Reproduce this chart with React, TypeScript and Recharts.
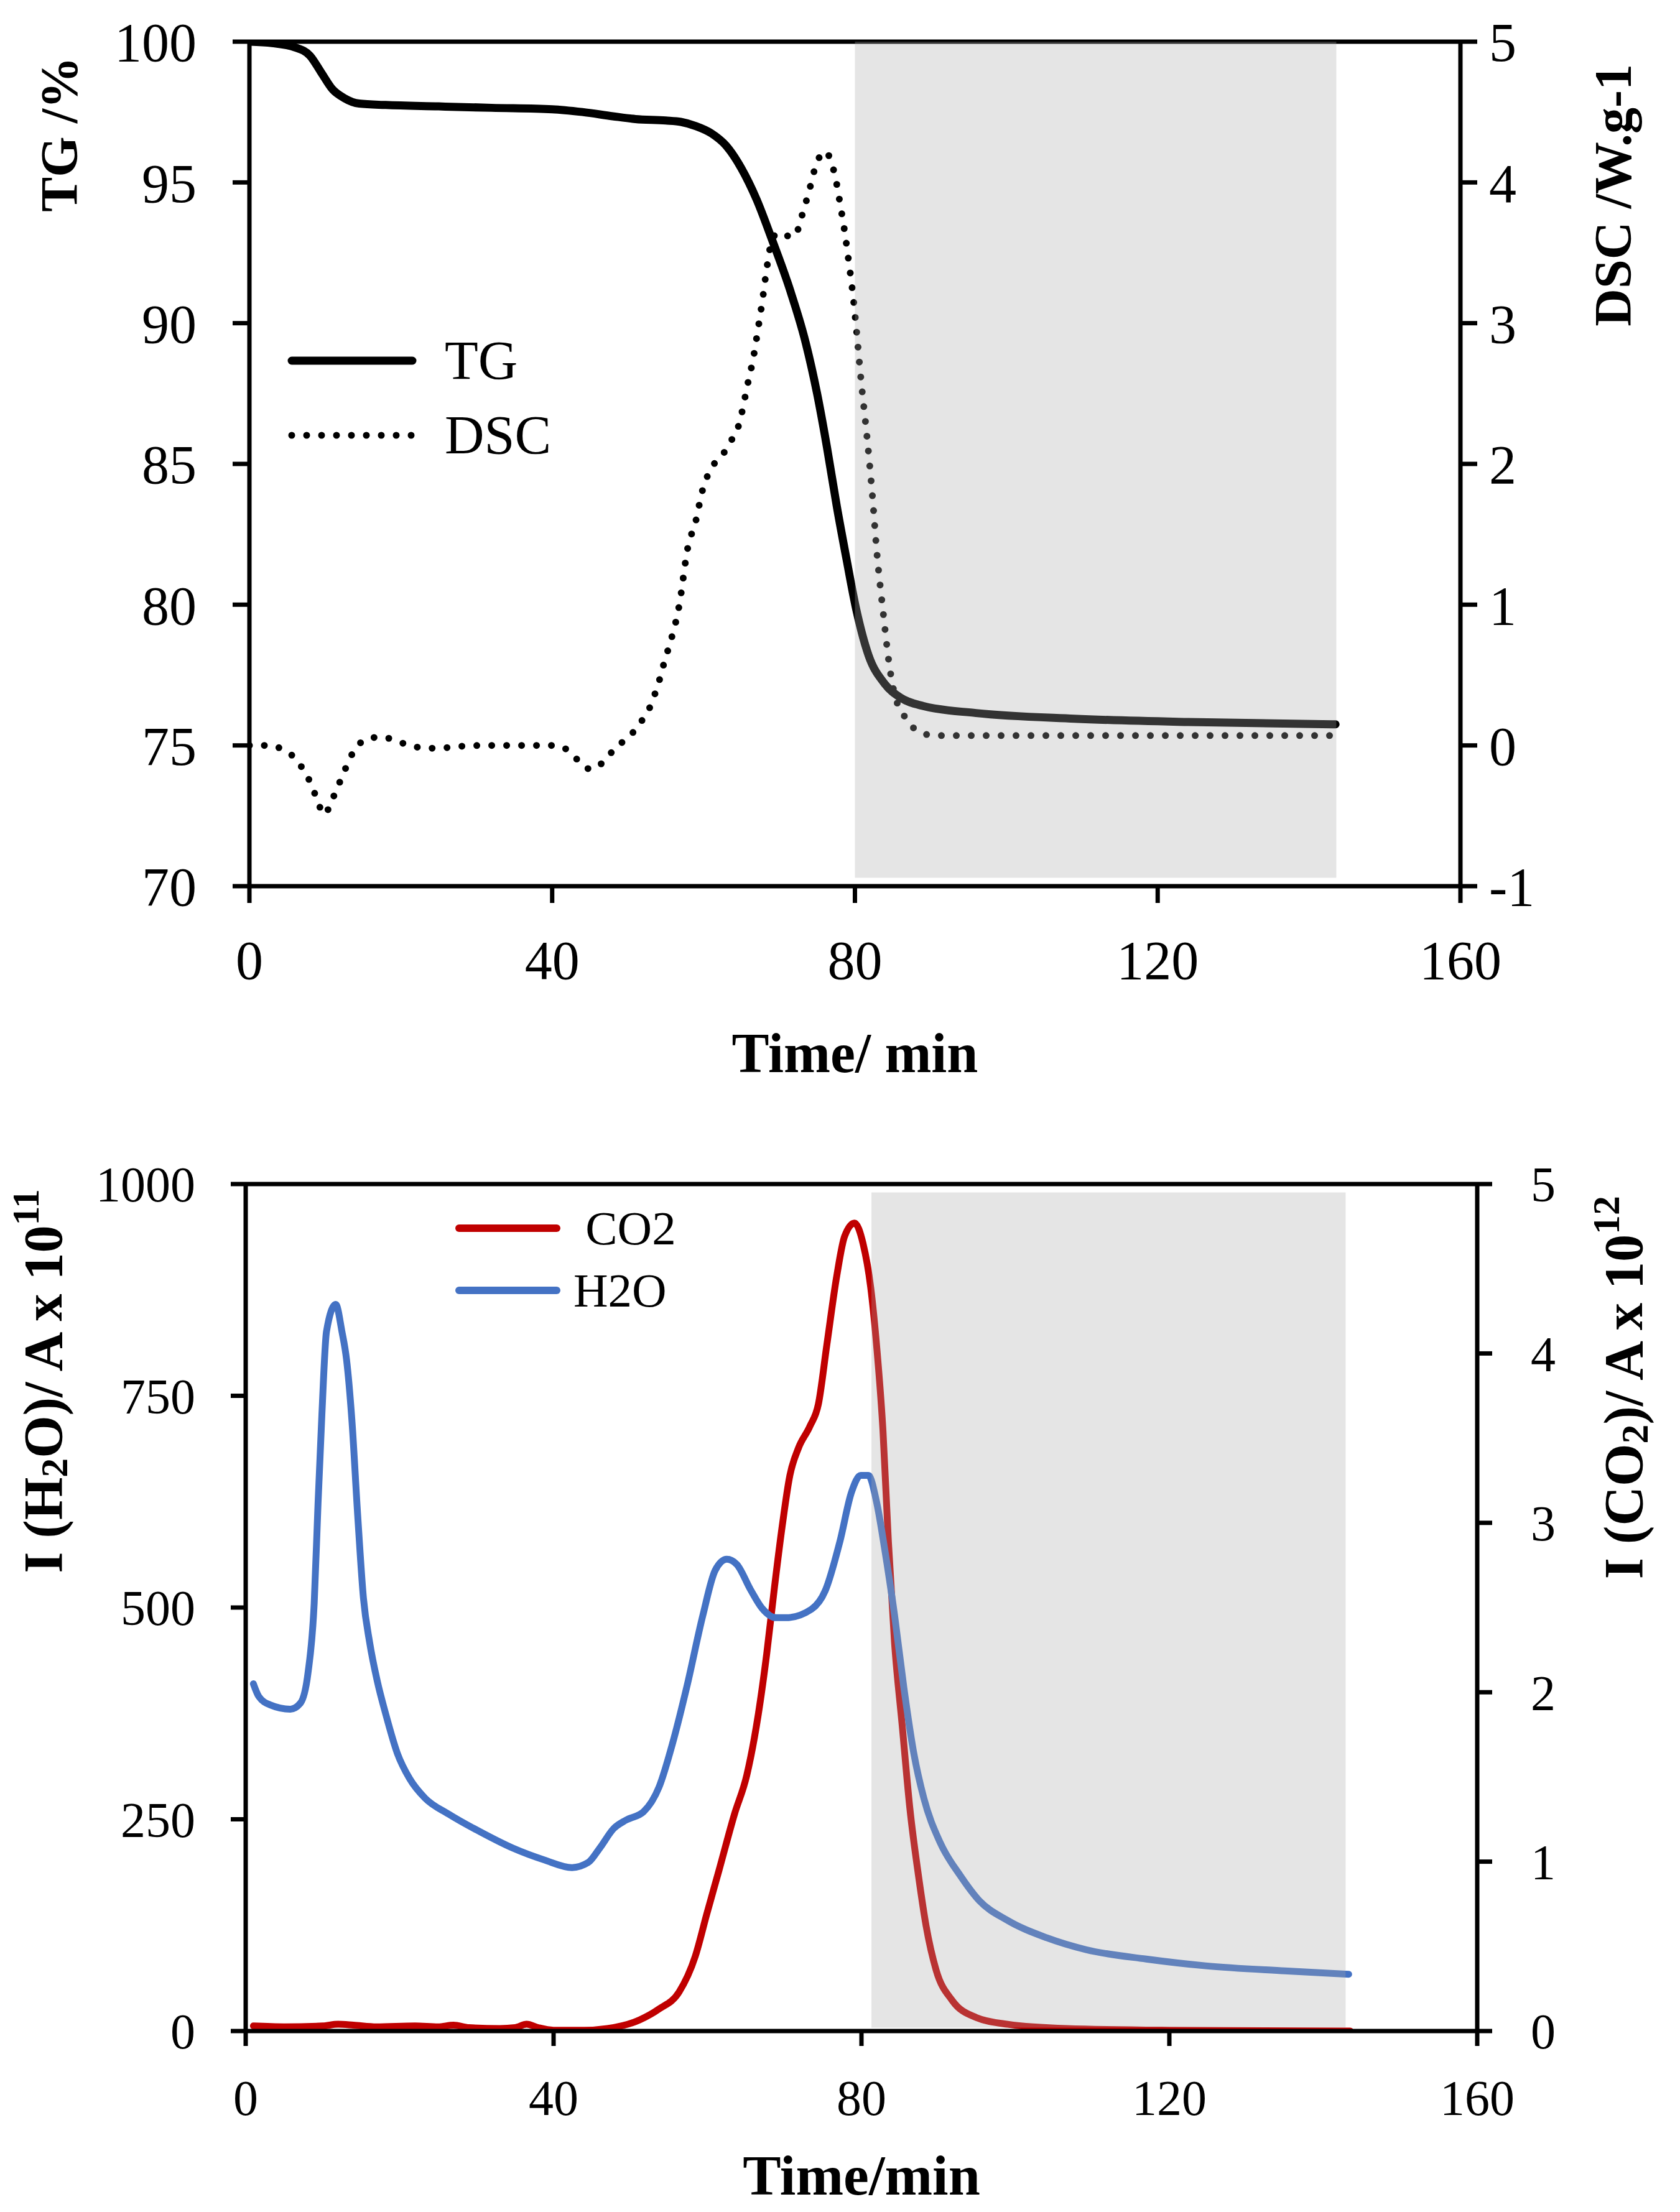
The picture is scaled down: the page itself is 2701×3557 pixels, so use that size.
import React from 'react';
import { LineChart, Line, XAxis, YAxis, ReferenceArea, ReferenceLine, Legend, Label } from 'recharts';

const FONT = '"Liberation Serif", "Times New Roman", serif';

// ---------- axis ticks ----------
const timeTicks = [0, 40, 80, 120, 160];
const tgTicks = [70, 75, 80, 85, 90, 95, 100];
const dscTicks = [-1, 0, 1, 2, 3, 4, 5];
const h2oTicks = [0, 250, 500, 750, 1000];
const co2Ticks = [0, 1, 2, 3, 4, 5];

// ---------- top chart: TG (%) ----------
const tgTime = [0, 3, 6, 8, 9.5, 11, 12.5, 14.5, 18, 25, 32, 40, 44, 48, 51, 55, 57, 59, 61, 63, 65, 67, 69, 71.4, 73.5, 75, 76.3, 77.6, 78.9, 80.2, 81.8, 83.9, 86, 89, 96, 109, 124, 143.5];
const tgValue = [100, 99.95, 99.8, 99.5, 98.9, 98.3, 98.0, 97.8, 97.75, 97.7, 97.65, 97.6, 97.5, 97.35, 97.25, 97.2, 97.15, 97.0, 96.75, 96.3, 95.5, 94.4, 93.0, 91.2, 89.3, 87.5, 85.6, 83.5, 81.6, 79.8, 78.2, 77.2, 76.7, 76.4, 76.15, 75.95, 75.83, 75.75];

// ---------- top chart: DSC (W/g) ----------
const dscTime = [0, 2.8, 4.7, 6.2, 7.3, 8.2, 8.9, 9.9, 10.9, 11.7, 12.5, 13.2, 14.2, 15.7, 17.6, 19.4, 21.3, 23.2, 25.1, 27, 30.8, 34.6, 38.5, 40.4, 42.2, 43.5, 45.1, 46.7, 48, 49.4, 50.8, 51.9, 52.9, 53.6, 54.2, 54.7, 55.2, 56.8, 57.9, 59.0, 59.8, 61.4, 62.7, 63.7, 64.5, 65.0, 65.8, 66.6, 67.2, 67.8, 68.3, 69.0, 69.8, 70.9, 72.1, 72.8, 73.9, 74.9, 76.1, 76.9, 77.4, 78.1, 78.7, 79.2, 79.7, 80.1, 80.8, 81.6, 82.3, 82.9, 83.7, 84.6, 85.3, 86.2, 87.3, 88.7, 90.7, 96.4, 108.9, 125, 143.5];
const dscValue = [0, 0, -0.04, -0.1, -0.19, -0.28, -0.38, -0.49, -0.39, -0.29, -0.19, -0.1, -0.01, 0.05, 0.06, 0.03, 0, -0.02, -0.02, -0.01, 0, 0, 0, 0, -0.04, -0.11, -0.17, -0.12, -0.04, 0.03, 0.1, 0.18, 0.27, 0.37, 0.47, 0.57, 0.66, 1.0, 1.4, 1.6, 1.8, 2.0, 2.08, 2.17, 2.25, 2.35, 2.56, 2.76, 2.96, 3.17, 3.37, 3.58, 3.64, 3.62, 3.62, 3.73, 3.93, 4.13, 4.22, 4.14, 4.04, 3.83, 3.63, 3.43, 3.22, 3.01, 2.6, 2.19, 1.78, 1.37, 0.96, 0.55, 0.35, 0.24, 0.15, 0.09, 0.07, 0.07, 0.07, 0.07, 0.07];

// ---------- bottom chart: H2O (A x 1e11) ----------
const h2oTime = [1, 1.7, 3.2, 5.8, 7.1, 8.1, 8.9, 9.4, 9.9, 10.5, 11.7, 12.5, 13.1, 13.8, 14.55, 15.3, 16.1, 17.1, 18.2, 19.7, 21.3, 23.3, 26.4, 30.5, 34.7, 38.8, 42.4, 44.5, 46, 47.8, 49.4, 51.7, 53.7, 55.5, 57.3, 59.4, 61.0, 62.5, 63.8, 65.6, 67.1, 68.9, 70.2, 73.5, 75.3, 77.2, 78.7, 79.9, 80.9, 82.0, 83.0, 84.3, 85.5, 86.8, 88.1, 90.2, 92.8, 95.3, 98.9, 104.1, 109.2, 117, 124.7, 135, 143.3];
const h2oValue = [410, 395, 385, 380, 387, 423, 505, 623, 728, 826, 858, 826, 793, 721, 609, 511, 459, 413, 374, 328, 298, 275, 256, 235, 216, 202, 193, 199, 216, 239, 249, 259, 288, 341, 406, 491, 544, 557, 551, 521, 499, 488, 488, 498, 520, 578, 636, 656, 656, 623, 570, 491, 406, 328, 275, 223, 184, 154, 131, 110, 96, 85, 77, 71, 67];

// ---------- bottom chart: CO2 (A x 1e12) ----------
const co2Time = [1, 5, 10, 12, 14, 17, 22, 25, 27, 29, 33, 35, 36.5, 38, 40, 44, 47, 51.2, 53.7, 56.3, 58.4, 59.9, 61.5, 63.5, 65.1, 66.6, 67.7, 68.7, 69.7, 70.7, 71.8, 73.3, 74.4, 75.5, 76.8, 77.8, 79.1, 80.2, 81.2, 82.0, 82.8, 83.5, 84.3, 85.3, 86.3, 87.4, 88.4, 89.7, 91.8, 94.9, 99, 106.7, 120, 143.5];
const co2Value = [0.03, 0.025, 0.03, 0.04, 0.035, 0.025, 0.03, 0.025, 0.035, 0.02, 0.015, 0.02, 0.04, 0.02, 0.005, 0.005, 0.015, 0.066, 0.13, 0.23, 0.44, 0.69, 0.95, 1.28, 1.51, 1.87, 2.23, 2.62, 2.98, 3.28, 3.44, 3.57, 3.7, 4.05, 4.46, 4.69, 4.77, 4.65, 4.39, 4.03, 3.54, 2.89, 2.29, 1.8, 1.31, 0.92, 0.62, 0.36, 0.18, 0.08, 0.04, 0.015, 0.005, 0];

// ---------- legends ----------
const topLegend = [
  { name: 'TG', color: '#000000', dash: undefined as string | undefined, width: 13 },
  { name: 'DSC', color: '#000000', dash: '0 24', width: 11 },
];
const bottomLegend = [
  { name: ' CO2', color: '#C00000' },
  { name: 'H2O', color: '#4472C4' },
];

const zip = (xs: number[], ys: number[], key: string) => xs.map((t, i) => ({ time: t, [key]: ys[i] }));
const tgData = zip(tgTime, tgValue, 'tg');
const dscData = zip(dscTime, dscValue, 'dsc');
const h2oData = zip(h2oTime, h2oValue, 'h2o');
const co2Data = zip(co2Time, co2Value, 'co2');

const axisStroke = { stroke: '#000', strokeWidth: 7 };

const TopLegendContent = () => (
  <div style={{ fontFamily: FONT, color: '#000' }}>
    {topLegend.map((it) => (
      <div key={it.name} style={{ display: 'flex', alignItems: 'center', height: 120 }}>
        <svg width={210} height={40} style={{ display: 'block' }}>
          <line x1={8} y1={20} x2={202} y2={20} stroke={it.color} strokeWidth={it.width}
            strokeDasharray={it.dash} strokeLinecap="round" />
        </svg>
        <span style={{ marginLeft: 44, fontSize: 88, lineHeight: '88px' }}>{it.name}</span>
      </div>
    ))}
  </div>
);

const BottomLegendContent = () => (
  <div style={{ fontFamily: FONT, color: '#000' }}>
    {bottomLegend.map((it) => (
      <div key={it.name} style={{ display: 'flex', alignItems: 'center', height: 100 }}>
        <svg width={173} height={30} style={{ display: 'block' }}>
          <line x1={8} y1={15} x2={165} y2={15} stroke={it.color} strokeWidth={12} strokeLinecap="round" />
        </svg>
        <span style={{ marginLeft: 19, fontSize: 77, lineHeight: '77px', whiteSpace: 'pre' }}>{it.name}</span>
      </div>
    ))}
  </div>
);

const rotTitle = (dx: number, dy: number, size: number, body: React.ReactNode) => (props: any) => {
  const vb = props.viewBox || { x: 0, y: 0 };
  const x = vb.x + dx;
  const y = vb.y + dy;
  return (
    <text x={x} y={y} transform={`rotate(-90, ${x}, ${y})`} textAnchor="end" dominantBaseline="central"
      fontFamily={FONT} fontWeight="bold" fontSize={size} fill="#000">
      {body}
    </text>
  );
};

const xTitle = (dy: number, size: number, body: string) => (props: any) => {
  const vb = props.viewBox || { x: 0, y: 0, width: 0 };
  return (
    <text x={vb.x + vb.width / 2} y={vb.y + dy} textAnchor="middle" dominantBaseline="central"
      fontFamily={FONT} fontWeight="bold" fontSize={size} fill="#000">
      {body}
    </text>
  );
};

const TopChart = () => (
  <LineChart width={2685} height={1790} margin={{ top: 59, right: 0, bottom: 0, left: 0 }}>
    <XAxis dataKey="time" type="number" domain={[0, 160]} ticks={timeTicks} interval={0} allowDataOverflow
      height={373} tickSize={27} tickMargin={60} axisLine={axisStroke} tickLine={axisStroke}
      tick={{ fill: '#000', fontSize: 88, fontFamily: FONT }}>
      <Label content={xTitle(268, 90, 'Time/ min')} />
    </XAxis>
    <YAxis yAxisId="tg" orientation="left" domain={[70, 100]} ticks={tgTicks} interval={0} allowDataOverflow
      width={393} tickSize={27} tickMargin={58} axisLine={axisStroke} tickLine={axisStroke}
      tick={{ fill: '#000', fontSize: 88, fontFamily: FONT }}>
      <Label content={rotTitle(87, 24, 84, 'TG /%')} />
    </YAxis>
    <YAxis yAxisId="dsc" orientation="right" domain={[-1, 5]} ticks={dscTicks} interval={0} allowDataOverflow
      width={345} tickSize={27} tickMargin={19} axisLine={axisStroke} tickLine={axisStroke}
      tick={{ fill: '#000', fontSize: 88, fontFamily: FONT, textAnchor: 'start' }}>
      <Label content={rotTitle(245, 36, 84, 'DSC /W.g-1')} />
    </YAxis>
    <ReferenceLine yAxisId="tg" y={100} stroke="#000" strokeWidth={7} />
    <Line yAxisId="tg" data={tgData} dataKey="tg" type="monotone" stroke="#000" strokeWidth={13}
      strokeLinecap="round" dot={false} activeDot={false} isAnimationActive={false} />
    <Line yAxisId="dsc" data={dscData} dataKey="dsc" type="monotone" stroke="#000" strokeWidth={11}
      strokeDasharray="0 24" strokeLinecap="round" dot={false} activeDot={false} isAnimationActive={false} />
    <ReferenceArea yAxisId="tg" x1={80} x2={143.6} y1={70.3} y2={100} fill="#aaaaaa" fillOpacity={0.3}
      stroke="none" zIndex={1500} />
    <Legend layout="vertical" align="center" verticalAlign="middle" content={TopLegendContent}
      wrapperStyle={{ left: 453, top: 512, width: 700, height: 240 }} />
  </LineChart>
);

const BottomChart = () => (
  <LineChart width={2685} height={1750} margin={{ top: 106, right: 0, bottom: 0, left: 0 }}>
    <XAxis dataKey="time" type="number" domain={[0, 160]} ticks={timeTicks} interval={0} allowDataOverflow
      height={282} tickSize={24} tickMargin={54} axisLine={axisStroke} tickLine={axisStroke}
      tick={{ fill: '#000', fontSize: 80, fontFamily: FONT }}>
      <Label content={xTitle(232, 92, 'Time/min')} />
    </XAxis>
    <YAxis yAxisId="h2o" orientation="left" domain={[0, 1000]} ticks={h2oTicks} interval={0} allowDataOverflow
      width={387} tickSize={24} tickMargin={57} axisLine={axisStroke} tickLine={axisStroke}
      tick={{ fill: '#000', fontSize: 80, fontFamily: FONT }}>
      <Label content={rotTitle(61, 8, 88, (
        <>
          <tspan>I (H</tspan>
          <tspan dy={18} fontSize={62}>2</tspan>
          <tspan dy={-18}>O)/ A x 10</tspan>
          <tspan dy={-28} fontSize={62}>11</tspan>
        </>
      ))} />
    </YAxis>
    <YAxis yAxisId="co2" orientation="right" domain={[0, 5]} ticks={co2Ticks} interval={0} allowDataOverflow
      width={318} tickSize={24} tickMargin={62} axisLine={axisStroke} tickLine={axisStroke}
      tick={{ fill: '#000', fontSize: 80, fontFamily: FONT, textAnchor: 'start' }}>
      <Label content={rotTitle(235, 19, 88, (
        <>
          <tspan>I (CO</tspan>
          <tspan dy={18} fontSize={62}>2</tspan>
          <tspan dy={-18}>)/ A x 10</tspan>
          <tspan dy={-28} fontSize={62}>12</tspan>
        </>
      ))} />
    </YAxis>
    <ReferenceLine yAxisId="h2o" y={1000} stroke="#000" strokeWidth={7} />
    <Line yAxisId="co2" data={co2Data} dataKey="co2" type="monotone" stroke="#C00000" strokeWidth={11}
      strokeLinecap="round" dot={false} activeDot={false} isAnimationActive={false} />
    <Line yAxisId="h2o" data={h2oData} dataKey="h2o" type="monotone" stroke="#4472C4" strokeWidth={11}
      strokeLinecap="round" dot={false} activeDot={false} isAnimationActive={false} />
    <ReferenceArea yAxisId="h2o" x1={81.3} x2={142.9} y1={4} y2={990} fill="#aaaaaa" fillOpacity={0.3}
      stroke="none" zIndex={1500} />
    <Legend layout="vertical" align="center" verticalAlign="middle" content={BottomLegendContent}
      wrapperStyle={{ left: 722, top: 127, width: 600, height: 200 }} />
  </LineChart>
);

export default function App() {
  return (
    <div style={{ width: 2685, background: '#fff' }}>
      <TopChart />
      <BottomChart />
    </div>
  );
}
